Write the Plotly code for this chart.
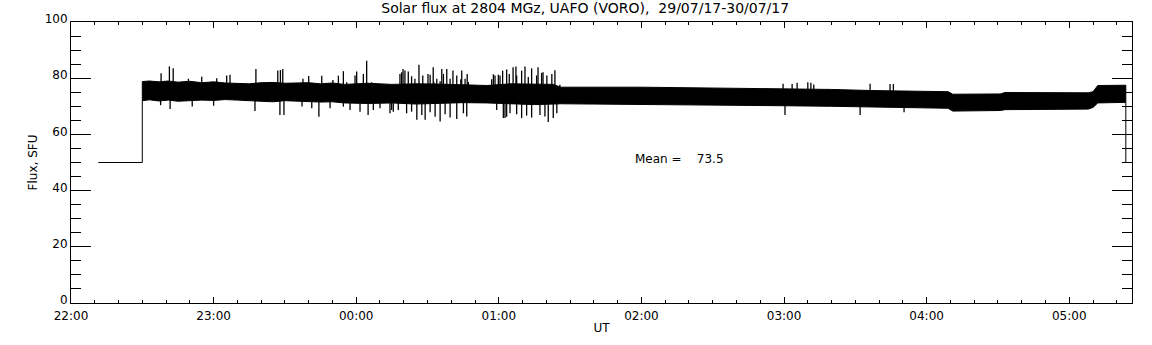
import datetime as dt
import plotly.graph_objects as go

# ---- data (minutes after 2017-07-29 22:00 UT) ----
title_text = "Solar flux at 2804 MGz, UAFO (VORO),  29/07/17-30/07/17"
mean_value = 73.5

# flat pre-observation level
pre_min = [11.5, 30.0]
pre_val = [50.0, 50.0]

# envelope of the dense noise band
env_min = [30, 33, 37, 41, 45, 50, 55, 60, 65, 70, 75, 80, 85, 90, 95, 100, 105, 110,
           115, 125, 135, 145, 155, 165, 175, 185, 195, 203, 206, 220, 240, 260, 280,
           300, 320, 337, 350, 369, 371, 385, 391, 393, 410, 428, 430, 432, 443.8]
env_upper = [78.8, 79.0, 78.7, 79.0, 78.6, 78.9, 78.4, 78.7, 78.3, 78.2, 78.0, 78.4,
             78.5, 78.2, 78.2, 78.4, 78.0, 78.3, 77.8, 78.2, 77.8, 78.0, 77.9, 77.6,
             77.4, 78.0, 78.0, 77.8, 76.8, 76.9, 76.8, 76.6, 76.4, 76.3, 76.0, 75.6,
             75.4, 75.2, 74.3, 74.3, 74.4, 74.9, 74.9, 74.8, 75.2, 77.4, 77.5]
env_lower = [72.0, 72.3, 71.9, 72.2, 71.8, 72.0, 72.2, 72.1, 72.4, 72.2, 72.0, 71.9,
             71.6, 72.0, 71.8, 71.7, 71.5, 71.6, 71.2, 71.0, 71.2, 70.8, 71.0, 71.3,
             71.2, 70.8, 70.6, 70.8, 70.9, 70.8, 70.7, 70.6, 70.4, 70.2, 70.0, 69.8,
             69.5, 69.3, 68.3, 68.3, 68.5, 68.8, 68.9, 69.0, 69.6, 71.2, 71.4]

# individual spikes above the band (minutes, SFU)
up_min = [37.9, 41.4, 43.0, 49.4, 55.0, 61.3, 65.5, 66.9, 77.8, 87.0, 88.1, 89.1,
          97.6, 100.0, 105.5, 110.2, 112.5, 114.6, 116.0, 119.5, 120.2, 123.0, 124.4,
          126.5, 138.4, 139.1, 139.7, 140.5, 141.9, 143.3, 144.7, 146.4, 148.0, 150.2,
          151.1, 152.4, 152.7, 153.9, 155.3, 156.0, 156.7, 158.1, 159.5, 160.7, 162.3,
          164.0, 164.4, 165.8, 166.7, 167.2, 177.0, 177.7, 178.4, 179.8, 180.5, 181.6,
          183.3, 184.4, 186.0, 187.2, 187.5, 189.6, 191.0, 192.4, 193.8, 195.9, 196.5,
          198.0, 198.6, 200.2, 202.3, 203.6, 205.7,
          299.6, 303.4, 305.5, 310.0, 311.3, 312.5, 336.2, 344.6, 346.0]
up_val = [81.8, 84.2, 83.5, 79.8, 80.5, 80.0, 81.0, 81.2, 83.3, 82.7, 82.9, 83.3,
          79.8, 80.8, 80.9, 79.4, 80.9, 82.5, 78.6, 81.0, 82.4, 81.5, 86.2,
          78.6, 81.5, 82.1, 83.3, 82.7, 82.4, 80.7, 79.8, 84.8, 81.0, 81.5,
          81.2, 83.9, 78.6, 79.8, 78.9, 83.3, 81.5, 83.3, 79.8, 82.7, 81.0,
          79.6, 82.7, 79.8, 81.5, 78.6, 79.6, 81.4, 81.0, 81.2, 81.0, 82.7,
          83.1, 81.5, 83.9, 84.2, 81.0, 82.7, 84.2, 80.4, 83.5, 81.0, 83.9,
          81.9, 82.1, 81.0, 81.5, 82.8, 77.7,
          78.0, 77.9, 78.4, 78.6, 78.4, 77.8, 78.0, 77.9, 77.9]

# individual spikes below the band (minutes, SFU)
low_min = [37.7, 41.7, 51.0, 60.0, 77.4, 87.9, 89.6, 97.2, 101.3, 104.3, 109.0, 114.6,
           117.4, 121.6, 125.0, 127.2, 130.0, 134.2, 134.9, 135.6, 137.7, 141.2, 143.3,
           145.5, 147.6, 149.0, 151.1, 153.2, 155.3, 157.4, 159.5, 162.3, 165.1, 166.5,
           179.1, 181.9, 182.6, 183.3, 184.7, 187.5, 189.6, 191.7, 193.8, 197.3, 199.4,
           200.8, 202.9, 204.4, 300.4, 332.0, 350.5]
low_val = [70.4, 69.0, 69.9, 70.2, 68.3, 66.9, 66.9, 69.9, 69.3, 66.3, 69.3, 69.9,
           68.7, 68.1, 66.9, 68.7, 69.3, 67.5, 68.7, 68.1, 68.7, 67.5, 68.1,
           65.2, 66.9, 65.2, 67.9, 66.3, 64.6, 67.2, 66.0, 65.5, 67.5, 66.4,
           68.7, 65.8, 65.8, 66.3, 67.5, 67.2, 65.8, 66.7, 66.0, 66.9, 66.4,
           64.4, 65.8, 67.5, 66.9, 66.9, 67.9]

# final drop
end_min = [443.8, 443.8]
end_val = [77.5, 50.0]

t0 = dt.datetime(2017, 7, 29, 22, 0, 0)


def tt(m):
    return [t0 + dt.timedelta(minutes=v) for v in m]


fig = go.Figure()
line = dict(color="black", width=1)

fig.add_trace(go.Scatter(x=tt(pre_min + [env_min[0]]), y=pre_val + [env_upper[0]],
                         mode="lines", line=line, hoverinfo="skip"))
fig.add_trace(go.Scatter(x=tt(env_min), y=env_lower, mode="lines", line=line,
                         hoverinfo="skip"))
fig.add_trace(go.Scatter(x=tt(env_min), y=env_upper, mode="lines", line=line,
                         fill="tonexty", fillcolor="black", hoverinfo="skip"))

sx, sy = [], []
for m, v in list(zip(up_min, up_val)) + list(zip(low_min, low_val)):
    t = t0 + dt.timedelta(minutes=m)
    sx += [t, t, None]
    sy += [mean_value, v, None]
fig.add_trace(go.Scatter(x=sx, y=sy, mode="lines", line=dict(color="black", width=1.3),
                         hoverinfo="skip", connectgaps=False))
fig.add_trace(go.Scatter(x=tt(end_min), y=end_val, mode="lines", line=line,
                         hoverinfo="skip"))

fig.add_annotation(x=t0 + dt.timedelta(minutes=236.5), y=51.2, xref="x", yref="y",
                   text="Mean =\u00a0\u00a0\u00a0\u00a0" + f"{mean_value:.1f}",
                   showarrow=False, xanchor="left", yanchor="middle",
                   font=dict(family="DejaVu Sans", size=12, color="black"))

font = dict(family="DejaVu Sans", size=12, color="black")
fig.update_layout(
    width=1152, height=345,
    margin=dict(l=71, r=20, t=19, b=41),
    paper_bgcolor="white", plot_bgcolor="white",
    showlegend=False,
    font=font,
    title=dict(text=title_text, x=0.508, xref="container", xanchor="center",
               y=1 - 8 / 345, yref="container", yanchor="middle",
               font=dict(family="DejaVu Sans", size=14, color="black")),
)
fig.update_xaxes(
    type="date",
    range=[t0, t0 + dt.timedelta(minutes=446.4)],
    tickformat="%H:%M", dtick=3600000, tick0=t0,
    ticks="inside", ticklen=6, tickwidth=1, tickcolor="black",
    minor=dict(ticks="inside", ticklen=3, dtick=600000, tick0=t0, tickcolor="black"),
    showline=True, linecolor="black", linewidth=1, mirror="ticks",
    showgrid=False, zeroline=False,
    ticklabelstandoff=2,
    title=dict(text="UT", standoff=1, font=font),
    tickfont=font,
)
fig.update_yaxes(
    range=[0, 100], dtick=20, tick0=0,
    ticks="inside", ticklen=20, tickwidth=1, tickcolor="black",
    minor=dict(ticks="inside", ticklen=10, dtick=5, tickcolor="black"),
    showline=True, linecolor="black", linewidth=1, mirror="ticks",
    showgrid=False, zeroline=False,
    ticklabelshift=-3,
    title=dict(text="Flux, SFU", standoff=4, font=font),
    tickfont=font,
)

fig.write_html("out.html", config={"displayModeBar": False},
               post_script="document.body.style.margin='0px';")
